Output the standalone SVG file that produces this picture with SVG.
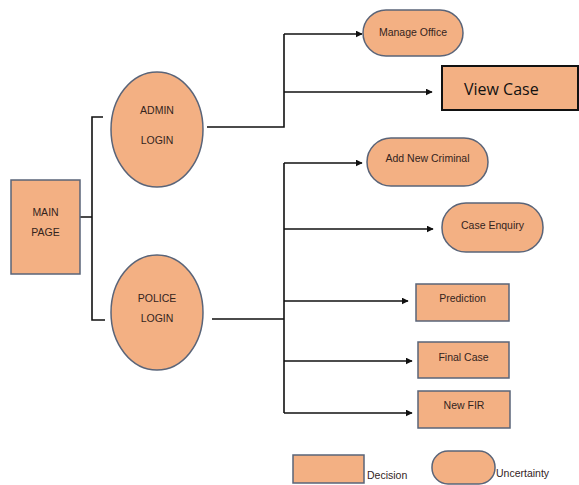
<svg xmlns="http://www.w3.org/2000/svg" width="579" height="485" viewBox="0 0 579 485">
<defs>
<marker id="ah" viewBox="0 0 10 10" refX="9" refY="5" markerWidth="7" markerHeight="7" orient="auto" markerUnits="userSpaceOnUse">
<path d="M0,0 L10,5 L0,10 z" fill="#111"/>
</marker>
<style>
.n{fill:#F3B083;stroke:#5A6478;stroke-width:1.5}
.t{font-family:"Liberation Sans",Arial,sans-serif;font-size:10.5px;fill:#33241d;text-anchor:middle}
.c{fill:none;stroke:#111;stroke-width:1.6}
.a{fill:none;stroke:#111;stroke-width:1.6;marker-end:url(#ah)}
.lg{font-family:"Liberation Sans",Arial,sans-serif;font-size:10.5px;fill:#33241d}
</style>
</defs>
<rect width="579" height="485" fill="#fff"/>
<g id="connectors">
<path class="c" d="M80,217 H92 M103,117 H92 V320 H105"/>
<path class="c" d="M207,127 H284 V34"/>
<path class="a" d="M284,34 H362"/>
<path class="a" d="M284,92 H432"/>
<path class="c" d="M212,319 H284 M284,163 V413"/>
<path class="a" d="M284,163 H362"/>
<path class="a" d="M284,229 H433"/>
<path class="a" d="M284,301 H408"/>
<path class="a" d="M284,361 H412"/>
<path class="a" d="M284,413 H412"/>
</g>
<g id="main-page">
<rect class="n" x="11" y="180" width="69" height="94"/>
<text class="t" x="45.5" y="216">MAIN</text>
<text class="t" x="45.5" y="236">PAGE</text>
</g>
<g id="admin-login">
<ellipse class="n" cx="157" cy="129.5" rx="46" ry="57.5"/>
<text class="t" x="157" y="114">ADMIN</text>
<text class="t" x="157" y="144">LOGIN</text>
</g>
<g id="police-login">
<ellipse class="n" cx="157" cy="312.5" rx="46" ry="57.5"/>
<text class="t" x="157" y="302">POLICE</text>
<text class="t" x="157" y="322">LOGIN</text>
</g>
<g id="manage-office">
<rect class="n" x="363" y="10" width="100" height="46" rx="23" ry="23"/>
<text class="t" x="413" y="36">Manage Office</text>
</g>
<g id="view-case">
<rect x="442" y="66" width="136" height="44" fill="#F3B083" stroke="#111" stroke-width="2"/>
<text x="464" y="95" font-family="'Open Sans','Liberation Sans',sans-serif" font-size="16" fill="#111">View Case</text>
</g>
<g id="add-new-criminal">
<rect class="n" x="367" y="138" width="121" height="48" rx="24" ry="24"/>
<text class="t" x="427.5" y="162">Add New Criminal</text>
</g>
<g id="case-enquiry">
<rect class="n" x="442" y="203" width="101" height="49" rx="24" ry="24"/>
<text class="t" x="492.5" y="229">Case Enquiry</text>
</g>
<g id="prediction">
<rect class="n" x="416" y="284" width="93" height="37"/>
<text class="t" x="462.5" y="302">Prediction</text>
</g>
<g id="final-case">
<rect class="n" x="418" y="342" width="91" height="36"/>
<text class="t" x="463.5" y="361">Final Case</text>
</g>
<g id="new-fir">
<rect class="n" x="418" y="391" width="92" height="37"/>
<text class="t" x="464" y="409">New FIR</text>
</g>
<g id="legend-decision">
<rect class="n" x="293" y="455" width="71" height="28"/>
<text class="lg" x="367" y="479">Decision</text>
</g>
<g id="legend-uncertainty">
<rect class="n" x="432" y="451" width="63" height="33" rx="16" ry="16"/>
<text class="lg" x="496" y="477">Uncertainty</text>
</g>
</svg>
